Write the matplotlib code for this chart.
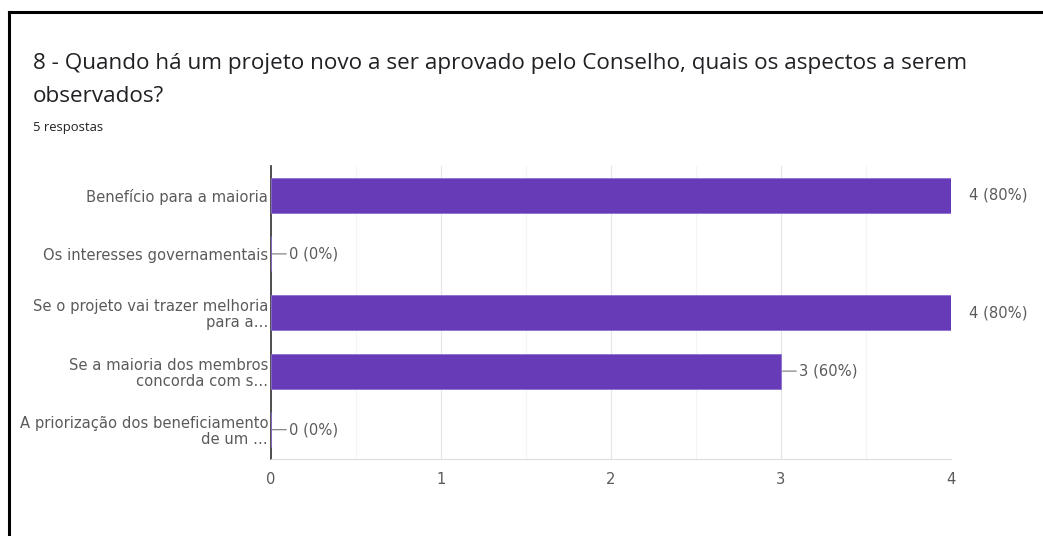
import matplotlib.pyplot as plt
from matplotlib.ticker import MultipleLocator
from matplotlib.lines import Line2D

# --- Data ---
categories = [
    "Benefício para a maioria",
    "Os interesses governamentais",
    "Se o projeto vai trazer melhoria\npara a…",
    "Se a maioria dos membros\nconcorda com s…",
    "A priorização dos beneficiamento\nde um …",
]
counts = [4, 0, 4, 3, 0]
total_responses = 5
x_ticks = [0, 1, 2, 3, 4]

title_line1 = "8 - Quando há um projeto novo a ser aprovado pelo Conselho, quais os aspectos a serem"
title_line2 = "observados?"
subtitle = f"{total_responses} respostas"

BAR_COLOR = "#673ab7"
TEXT_COLOR = "#5a5a5a"
CHART_FONT = "DejaVu Sans"
CHART_SIZE = 10.6

fig = plt.figure(figsize=(10.43, 5.36), dpi=100)
fig.patch.set_facecolor("white")

# frame around the card (left and top edges only)
fig.add_artist(Line2D([9 / 1043, 9 / 1043], [0, 1 - 12 / 536], transform=fig.transFigure,
                      color="black", lw=2.2))
fig.add_artist(Line2D([9 / 1043, 1], [1 - 12 / 536, 1 - 12 / 536], transform=fig.transFigure,
                      color="black", lw=2.2))

# --- Header text ---
fig.text(33 / 1043, 1 - 64 / 536, title_line1, fontsize=16.2, color="#202124",
         family="Open Sans", va="center", ha="left")
fig.text(33 / 1043, 1 - 97 / 536, title_line2, fontsize=16.2, color="#202124",
         family="Open Sans", va="center", ha="left")
fig.text(33 / 1043, 1 - 127 / 536, subtitle, fontsize=9.4, color="#202124",
         family="Open Sans", va="center", ha="left")

# --- Bar chart ---
ax = fig.add_axes([271 / 1043, 1 - 459 / 536, 680 / 1043, 293 / 536])
ypos = list(range(len(categories)))
ax.barh(ypos, counts, height=0.6, color=BAR_COLOR, edgecolor="#8e6fd0", linewidth=0.6, zorder=3)

ax.set_xlim(0, 4)
ax.set_ylim(len(categories) - 0.5, -0.5)
ax.set_yticks(ypos)
ax.set_yticklabels(categories, family=CHART_FONT, fontsize=CHART_SIZE, color=TEXT_COLOR,
                   multialignment="right", linespacing=1.1)
ax.set_xticks(x_ticks)
ax.set_xticklabels([str(t) for t in x_ticks], family=CHART_FONT, fontsize=CHART_SIZE,
                   color=TEXT_COLOR)
ax.xaxis.set_minor_locator(MultipleLocator(0.5))
ax.tick_params(axis="y", length=0, pad=2)
ax.tick_params(axis="x", which="both", length=0, pad=9)

ax.grid(axis="x", which="major", color="#e6e6e6", lw=0.8, zorder=0)
ax.grid(axis="x", which="minor", color="#f4f4f4", lw=0.8, zorder=0)
ax.grid(axis="y", visible=False)

for side in ["top", "right"]:
    ax.spines[side].set_visible(False)
ax.spines["left"].set_color("#333333")
ax.spines["left"].set_linewidth(1.2)
ax.spines["bottom"].set_color("#dddddd")
ax.spines["bottom"].set_linewidth(0.8)

# value labels, with a short leader line where there is room
max_count = max(counts)
for y, c in zip(ypos, counts):
    label = f"{c} ({c / total_responses:.0%})"
    leader = None
    if c < max_count:
        leader = dict(arrowstyle="-", color="#777777", lw=0.8, shrinkA=0, shrinkB=1)
    ax.annotate(label, xy=(c, y), xytext=(13, 0), textcoords="offset points",
                va="center", ha="left", fontsize=CHART_SIZE, color=TEXT_COLOR,
                family=CHART_FONT, annotation_clip=False, arrowprops=leader)

fig.savefig("out.png", dpi=100, facecolor="white")
